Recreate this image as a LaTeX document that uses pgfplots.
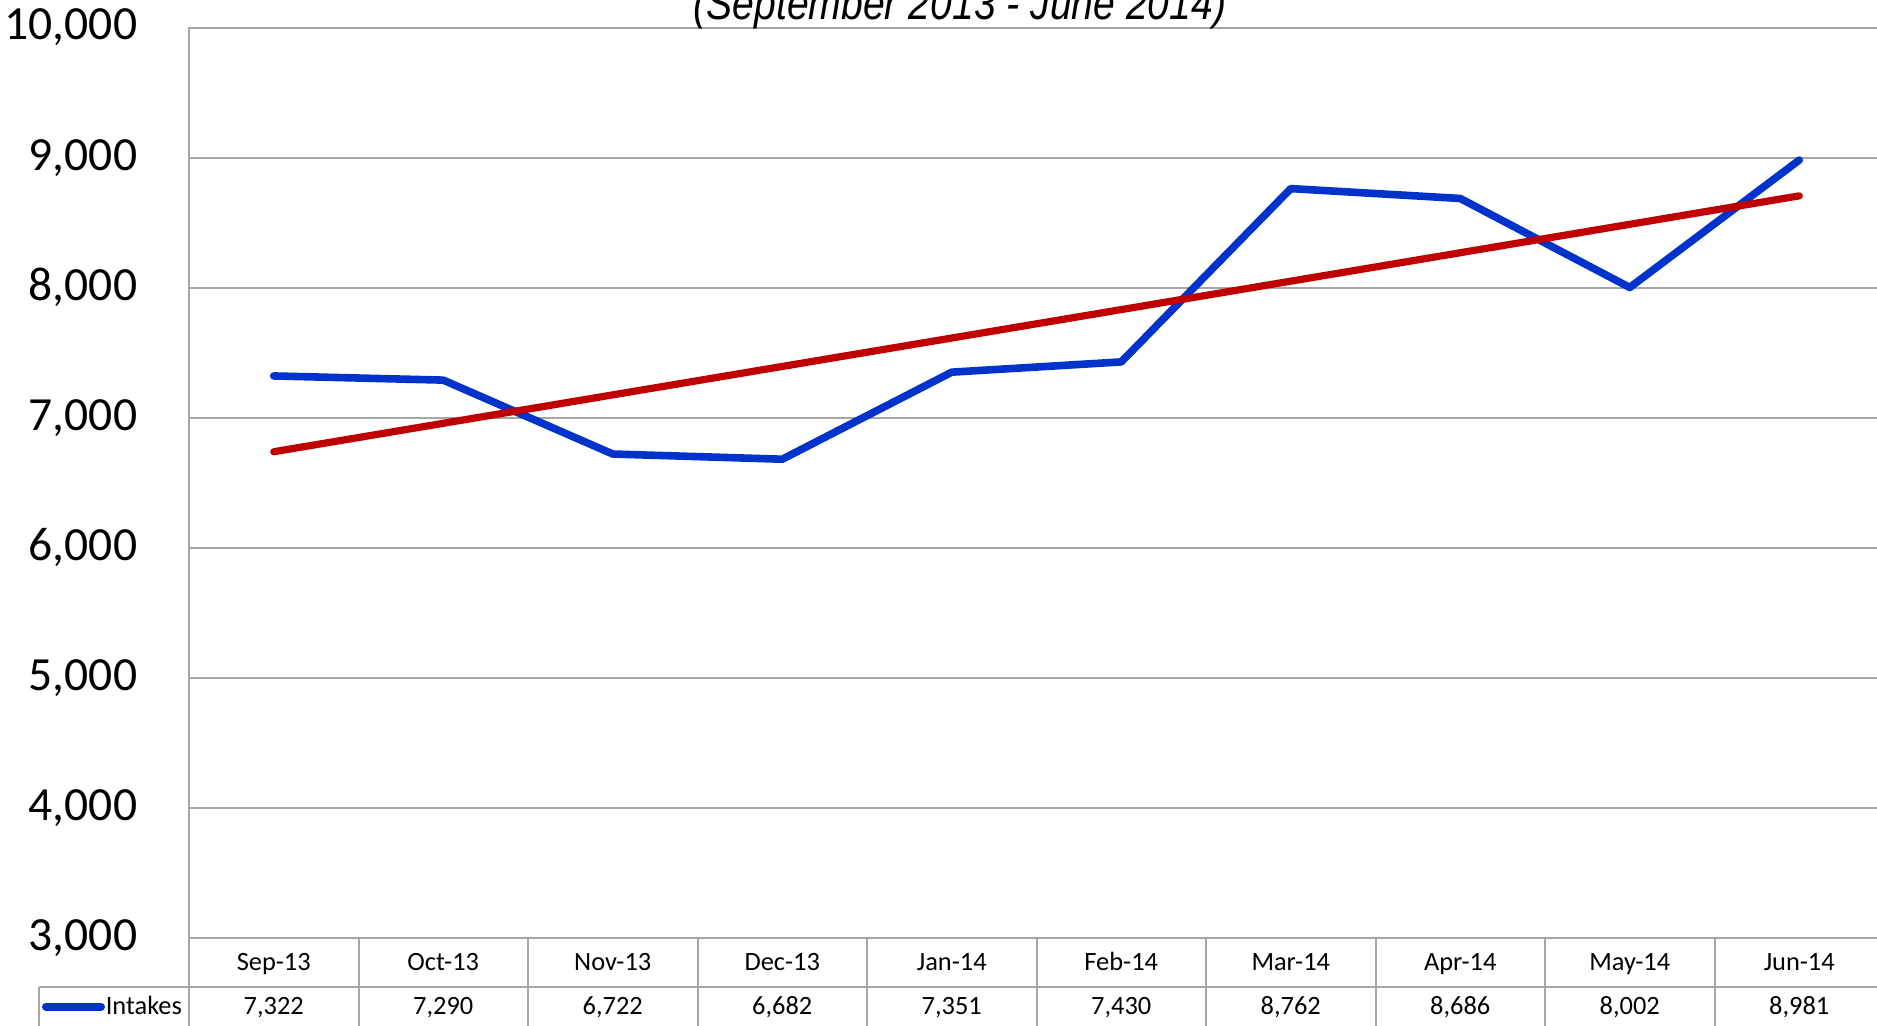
\documentclass[border=0pt]{standalone}
\usepackage{pgfplots}
\pgfplotsset{compat=1.18}
\usepackage{fontspec}
\setmainfont{Carlito}
\newfontfamily\titlefont[FakeStretch=0.85]{Liberation Sans}
\definecolor{intblue}{RGB}{0,51,204}
\definecolor{trendred}{RGB}{192,0,0}
\definecolor{gridgray}{RGB}{166,166,166}
\begin{document}
\begin{tikzpicture}
\begin{axis}[
  at={(47.25pt,21.925pt)}, anchor=south west,
  scale only axis, width=423.75pt, height=227.7pt,
  xmin=-0.5, xmax=9.5, ymin=3000, ymax=10000,
  xtick={0,...,9},
  xticklabels={Sep-13,Oct-13,Nov-13,Dec-13,Jan-14,Feb-14,Mar-14,Apr-14,May-14,Jun-14},
  ytick={3000,4000,5000,6000,7000,8000,9000,10000},
  major tick length=0pt,
  axis line style={gridgray, line width=0.5pt},
  ymajorgrids, grid style={gridgray, line width=0.5pt},
  clip=false,
  scaled y ticks=false,
  yticklabel style={font=\fontsize{11.9}{13}\selectfont, anchor=east, inner sep=0pt, xshift=-12.75pt},
  xticklabel style={font=\fontsize{6.6}{8}\selectfont, anchor=base, inner sep=0pt, yshift=-8.1pt},
  /pgf/number format/.cd, 1000 sep={,}, assume math mode=true,
]
\addplot[intblue, line width=1.9pt, line cap=round, line join=round] coordinates {
 (0,7322) (1,7290) (2,6722) (3,6682) (4,7351) (5,7430) (6,8762) (7,8686) (8,8002) (9,8981)};
\addplot[trendred, line width=1.8pt, line cap=round] coordinates {(0,6739.5) (9,8706.1)};
\end{axis}
\begin{scope}[x=0.25pt,y=0.25pt]
  \draw[gridgray, line width=0.5pt] (39.3,39.3) -- (1900,39.3);
  \draw[gridgray, line width=0.5pt] (39.3,39.3) -- (39.3,-5);
  \foreach \k in {0,...,10} {
    \draw[gridgray, line width=0.5pt] ({189+169.5*\k},87.7) -- ({189+169.5*\k},-5);
  }
  \foreach \k/\v in {0/{7,322},1/{7,290},2/{6,722},3/{6,682},4/{7,351},5/{7,430},6/{8,762},7/{8,686},8/{8,002},9/{8,981}} {
    \node[anchor=base, inner sep=0pt, font=\fontsize{6.6}{8}\selectfont] at ({273.75+169.5*\k},11) {\v};
  }
  \draw[intblue, line width=2pt, line cap=round] (46,19.3) -- (101,19.3);
  \node[anchor=base west, inner sep=0pt, font=\fontsize{6.6}{8}\selectfont] at (105,11) {Intakes};
  \node[anchor=base, inner sep=0pt, font=\titlefont\itshape\fontsize{11.5}{13}\selectfont] at (960,1006) {(September 2013 - June 2014)};
\end{scope}
\pgfresetboundingbox
\useasboundingbox (0pt,0pt) rectangle (469.25pt,256.5pt);
\end{tikzpicture}
\end{document}
